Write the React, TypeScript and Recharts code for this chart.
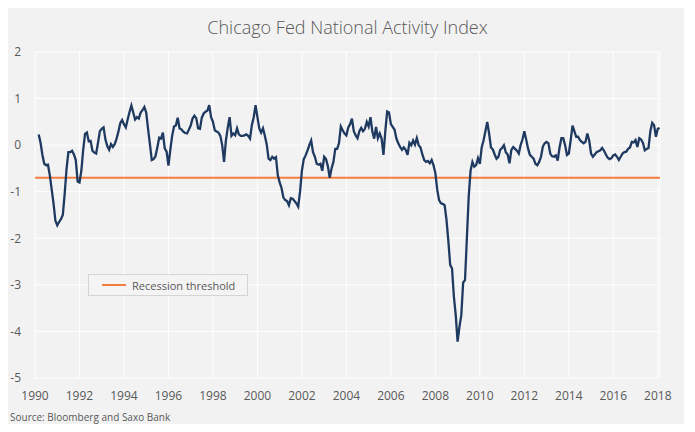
import { LineChart, Line, XAxis, YAxis, CartesianGrid, ReferenceLine, Legend } from 'recharts';

// Monthly index readings, first value is March 1990
const START_YEAR = 1990;
const START_MONTH = 3;

const cfnai: number[] = [
  /* 1990 */ 0.23, 0.05, -0.21, -0.4, -0.43, -0.42, -0.65, -0.95, -1.25, -1.62,
  /* 1991 */ -1.72, -1.65, -1.59, -1.5, -1.05, -0.52, -0.15, -0.15, -0.12, -0.2, -0.32, -0.78,
  /* 1992 */ -0.8, -0.55, -0.1, 0.24, 0.27, 0.08, 0.09, -0.12, -0.16, -0.18, 0.05, 0.3,
  /* 1993 */ 0.35, 0.38, 0.12, -0.02, -0.1, 0.02, -0.04, 0.02, 0.14, 0.29, 0.47, 0.54,
  /* 1994 */ 0.45, 0.38, 0.55, 0.71, 0.85, 0.7, 0.55, 0.6, 0.57, 0.7, 0.75, 0.82,
  /* 1995 */ 0.7, 0.35, 0.02, -0.32, -0.3, -0.24, -0.05, 0.16, 0.14, 0.27, -0.07, -0.14,
  /* 1996 */ -0.44, -0.1, 0.2, 0.4, 0.42, 0.59, 0.36, 0.34, 0.29, 0.26, 0.25, 0.33,
  /* 1997 */ 0.42, 0.57, 0.63, 0.58, 0.36, 0.35, 0.59, 0.68, 0.72, 0.74, 0.86, 0.6,
  /* 1998 */ 0.5, 0.32, 0.29, 0.27, 0.2, 0.0, -0.36, 0.1, 0.38, 0.6, 0.2, 0.25,
  /* 1999 */ 0.21, 0.36, 0.23, 0.2, 0.2, 0.21, 0.23, 0.2, 0.14, 0.43, 0.6, 0.86,
  /* 2000 */ 0.6, 0.36, 0.27, 0.36, 0.2, 0.02, -0.29, -0.32, -0.25, -0.29, -0.26, -0.65,
  /* 2001 */ -0.8, -0.92, -1.12, -1.18, -1.2, -1.29, -1.14, -1.15, -1.2, -1.25, -1.32, -1.0,
  /* 2002 */ -0.55, -0.3, -0.22, -0.12, 0.0, 0.1, -0.15, -0.25, -0.4, -0.42, -0.4, -0.55,
  /* 2003 */ -0.25, -0.3, -0.45, -0.7, -0.5, -0.36, -0.08, -0.08, 0.04, 0.4, 0.32, 0.25,
  /* 2004 */ 0.21, 0.38, 0.45, 0.57, 0.3, 0.21, 0.15, 0.3, 0.37, 0.3, 0.35, 0.5,
  /* 2005 */ 0.4, 0.6, 0.29, 0.14, 0.39, 0.15, 0.25, 0.14, -0.21, 0.3, 0.72, 0.7,
  /* 2006 */ 0.45, 0.39, 0.33, 0.14, 0.04, -0.04, -0.1, -0.05, -0.1, -0.21, 0.05, 0.0,
  /* 2007 */ 0.1, 0.01, 0.15, 0.0, -0.05, -0.2, -0.32, -0.36, -0.34, -0.39, -0.32, -0.43,
  /* 2008 */ -0.6, -0.95, -1.18, -1.25, -1.26, -1.29, -1.6, -2.05, -2.57, -2.65, -3.25, -3.65,
  /* 2009 */ -4.22, -3.9, -3.65, -2.95, -2.9, -2.0, -1.1, -0.55, -0.36, -0.46, -0.43, -0.28,
  /* 2010 */ -0.4, -0.05, 0.1, 0.3, 0.5, 0.25, -0.05, -0.09, -0.2, -0.29, -0.25, -0.1,
  /* 2011 */ -0.06, 0.0, -0.15, -0.2, -0.39, -0.1, -0.04, -0.08, -0.12, -0.18, 0.0, 0.12,
  /* 2012 */ 0.3, 0.12, -0.07, -0.21, -0.25, -0.29, -0.4, -0.43, -0.36, -0.25, -0.03, 0.04,
  /* 2013 */ 0.07, 0.04, -0.18, -0.24, -0.25, -0.22, -0.33, -0.05, 0.15, 0.15, 0.0, -0.21,
  /* 2014 */ -0.18, 0.1, 0.42, 0.3, 0.18, 0.18, 0.11, 0.07, 0.04, 0.07, 0.25, 0.1,
  /* 2015 */ -0.18, -0.25, -0.2, -0.15, -0.13, -0.11, -0.06, -0.12, -0.2, -0.27, -0.3, -0.28,
  /* 2016 */ -0.22, -0.2, -0.25, -0.32, -0.25, -0.18, -0.15, -0.14, -0.08, -0.05, 0.07, 0.06,
  /* 2017 */ 0.11, -0.04, 0.15, 0.12, 0.05, -0.11, -0.08, -0.06, 0.3, 0.48, 0.43, 0.18,
  /* 2018 */ 0.35, 0.37,
];

const yearTicks = [1990, 1992, 1994, 1996, 1998, 2000, 2002, 2004, 2006, 2008, 2010, 2012, 2014, 2016, 2018];
const valueTicks = [-5, -4, -3, -2, -1, 0, 1, 2];
const RECESSION_THRESHOLD = -0.7;

const TEXT = '#595959';
const NAVY = '#1f3a60';
const ORANGE = '#f47d3f';
const FONT = '"Open Sans", "Noto Sans", sans-serif';

// decimal year for each monthly reading
const data = cfnai.map((v, i) => ({
  t: START_YEAR + (START_MONTH - 1 + i) / 12,
  cfnai: v,
}));

function ThresholdLegend() {
  return (
    <div
      style={{
        width: 158,
        height: 20,
        border: '1px solid #d4d4d4',
        background: '#f4f4f4',
        display: 'flex',
        alignItems: 'center',
        fontFamily: FONT,
        fontSize: 11,
        color: TEXT,
      }}
    >
      <span style={{ display: 'inline-block', width: 24, height: 2, background: ORANGE, marginLeft: 13, marginRight: 6 }} />
      <span>Recession threshold</span>
    </div>
  );
}

export default function App() {
  return (
    <div style={{ position: 'relative', width: 695, height: 432, margin: -8, background: '#fff', fontFamily: FONT }}>
      <div style={{ position: 'absolute', left: 4, top: 6, width: 680, height: 420, background: '#f2f2f2' }} />
      <div
        style={{
          position: 'absolute',
          left: 0,
          top: 15,
          width: 695,
          textAlign: 'center',
          fontSize: 18,
          fontWeight: 300,
          color: TEXT,
        }}
      >
        Chicago Fed National Activity Index
      </div>
      <div style={{ position: 'absolute', left: 0, top: 0 }}>
        <LineChart width={695} height={432} data={data} margin={{ top: 52, right: 35, bottom: 24, left: 0 }}>
          <CartesianGrid stroke="#ffffff" strokeWidth={1} />
          <XAxis
            dataKey="t"
            type="number"
            domain={[1990, 2018.1]}
            ticks={yearTicks}
            axisLine={false}
            tickLine={false}
            tickSize={0}
            tickMargin={13}
            height={30}
            tick={{ fill: TEXT, fontSize: 12, fontFamily: FONT }}
            interval={0}
          />
          <YAxis
            type="number"
            domain={[-5, 2]}
            ticks={valueTicks}
            axisLine={false}
            tickLine={false}
            tickSize={0}
            tickMargin={14}
            width={35}
            tick={{ fill: TEXT, fontSize: 12, fontFamily: FONT }}
            interval={0}
          />
          <ReferenceLine y={RECESSION_THRESHOLD} stroke={ORANGE} strokeWidth={2} />
          <Line
            type="linear"
            dataKey="cfnai"
            stroke={NAVY}
            strokeWidth={2.3}
            dot={false}
            isAnimationActive={false}
            legendType="none"
          />
          <Legend
            layout="horizontal"
            verticalAlign="middle"
            align="center"
            content={() => <ThresholdLegend />}
            wrapperStyle={{ left: 88, top: 274, width: 160 }}
          />
        </LineChart>
      </div>
      <div style={{ position: 'absolute', left: 10, top: 410, fontSize: 10, color: TEXT }}>
        Source: Bloomberg and Saxo Bank
      </div>
    </div>
  );
}
